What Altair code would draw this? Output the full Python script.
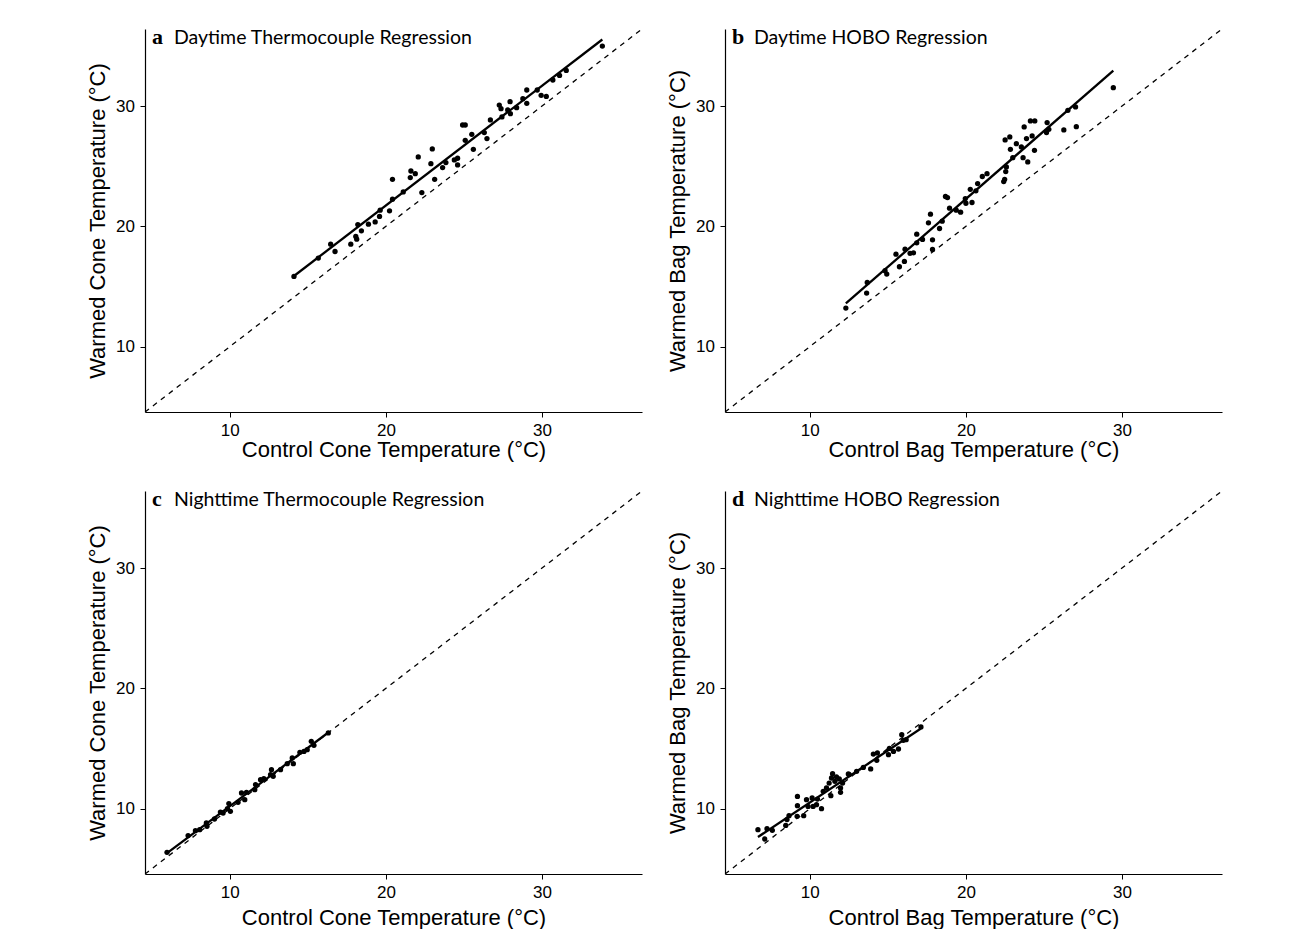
import altair as alt
import pandas as pd

AX_LO, AX_HI = 4.57, 36.4
TICKS = [10, 20, 30]

# Panel a: Daytime Thermocouple
a_x = [14.11, 15.67, 16.46, 16.74, 17.75, 18.13, 18.20, 18.43, 18.07, 18.88,
       19.31, 19.59, 19.63, 20.23, 20.42, 20.42, 21.11, 21.56, 21.60, 21.88,
       22.07, 22.30, 22.88, 22.97, 23.12, 23.63, 23.84, 24.38, 24.59, 24.59,
       24.91, 25.08, 25.08, 25.50, 25.60, 26.30, 26.47, 26.69, 27.26, 27.37,
       27.43, 27.80, 27.95, 27.97, 28.37, 28.77, 29.02, 29.02, 29.69, 29.94,
       30.27, 30.69, 31.12, 31.55, 33.86]
a_y = [15.84, 17.36, 18.52, 17.91, 18.52, 18.93, 20.15, 19.63, 19.16, 20.18,
       20.37, 20.82, 21.34, 21.29, 22.25, 23.91, 22.86, 24.05, 24.60, 24.38,
       25.77, 22.81, 25.21, 26.43, 23.91, 24.88, 25.30, 25.52, 25.66, 25.10,
       28.42, 28.42, 27.15, 27.65, 26.40, 27.79, 27.29, 28.84, 30.08, 29.78,
       29.09, 29.67, 30.36, 29.36, 29.86, 30.61, 30.22, 31.33, 31.33, 30.89,
       30.80, 32.16, 32.54, 32.96, 34.98]

# Panel b: Daytime HOBO
b_x = [12.31, 13.64, 13.68, 14.93, 14.82, 15.52, 15.74, 16.10, 16.06, 16.42,
       16.64, 16.85, 16.85, 17.22, 17.60, 17.73, 17.86, 17.86, 18.31, 18.48,
       18.69, 18.82, 18.95, 19.38, 19.66, 19.96, 20.00, 20.39, 20.28, 20.64,
       20.75, 21.05, 21.35, 22.42, 22.48, 22.55, 22.59, 22.51, 22.81, 22.85,
       23.00, 23.23, 23.55, 23.66, 23.73, 23.88, 23.96, 24.24, 24.13, 24.41,
       24.39, 25.16, 25.20, 25.31, 26.27, 26.53, 27.02, 27.07, 29.44]
b_y = [13.21, 14.45, 15.34, 16.03, 16.31, 17.69, 16.64, 18.10, 17.08, 17.75,
       17.80, 19.35, 18.63, 18.91, 20.29, 21.01, 18.88, 18.08, 19.82, 20.43,
       22.48, 22.39, 21.51, 21.34, 21.18, 22.31, 21.92, 21.98, 23.08, 22.95,
       23.55, 24.14, 24.38, 23.72, 23.91, 24.55, 24.94, 27.18, 27.43, 26.40,
       25.71, 26.87, 26.60, 25.71, 28.26, 27.29, 25.35, 27.51, 28.76, 28.76,
       26.32, 27.79, 28.62, 28.06, 28.01, 29.64, 29.92, 28.28, 31.52]

# Panel c: Nighttime Thermocouple
c_x = [5.98, 7.33, 7.80, 8.07, 8.50, 8.54, 9.02, 9.40, 9.57, 9.94,
       10.04, 9.85, 10.53, 10.75, 10.96, 11.07, 11.60, 11.65, 11.97, 12.18,
       12.61, 12.67, 12.78, 13.25, 13.68, 14.00, 14.07, 14.49, 14.75, 14.96,
       15.22, 15.39, 16.31]
c_y = [6.37, 7.76, 8.17, 8.25, 8.81, 8.53, 9.14, 9.72, 9.64, 10.42,
       9.78, 10.00, 10.53, 11.30, 10.75, 11.36, 11.58, 12.00, 12.41, 12.49,
       12.83, 13.24, 12.69, 13.24, 13.74, 14.21, 13.74, 14.68, 14.76, 14.90,
       15.60, 15.26, 16.29]

# Panel d: Nighttime HOBO
d_x = [6.68, 7.11, 7.26, 7.60, 8.46, 8.54, 8.67, 9.19, 9.21, 9.21,
       9.61, 9.79, 9.89, 10.15, 10.21, 10.43, 10.49, 10.75, 10.86, 11.07,
       11.24, 11.35, 11.46, 11.39, 11.61, 11.71, 11.89, 11.97, 12.10, 11.97,
       12.47, 12.53, 13.00, 13.43, 13.90, 14.07, 14.33, 14.29, 15.04, 15.10,
       15.36, 15.68, 15.89, 15.99, 16.17, 17.12]
d_y = [8.25, 7.48, 8.34, 8.20, 8.61, 9.09, 9.42, 9.36, 11.02, 10.25,
       9.42, 10.75, 10.19, 10.89, 10.19, 10.33, 10.80, 10.00, 11.44, 11.72,
       12.13, 11.08, 12.91, 12.55, 12.27, 12.63, 12.47, 11.36, 12.13, 11.72,
       12.88, 12.83, 13.10, 13.43, 13.30, 14.54, 14.63, 14.02, 14.49, 15.01,
       14.76, 14.96, 16.15, 15.68, 15.73, 16.79]

letters = ["a", "b", "c", "d"]
titles = ["Daytime Thermocouple Regression", "Daytime HOBO Regression",
          "Nighttime Thermocouple Regression", "Nighttime HOBO Regression"]
x_titles = ["Control Cone Temperature (°C)", "Control Bag Temperature (°C)",
            "Control Cone Temperature (°C)", "Control Bag Temperature (°C)"]
y_titles = ["Warmed Cone Temperature (°C)", "Warmed Bag Temperature (°C)",
            "Warmed Cone Temperature (°C)", "Warmed Bag Temperature (°C)"]
x_title_pad = [1.5, 1.5, 7, 7]

W, H = 497, 383


def panel(xs, ys, letter, title, xtitle, ytitle, xpad):
    df = pd.DataFrame({"x": xs, "y": ys})
    sc = alt.Scale(domain=[AX_LO, AX_HI], nice=False, zero=False)
    X = alt.X("x:Q", scale=sc,
              axis=alt.Axis(values=TICKS, title=xtitle, tickSize=5, labelPadding=5,
                            titlePadding=xpad))
    Y = alt.Y("y:Q", scale=sc,
              axis=alt.Axis(values=TICKS, title=ytitle, tickSize=5, labelPadding=5.5,
                            titlePadding=6))
    ident_df = pd.DataFrame({"x": [AX_LO, AX_HI], "y": [AX_LO, AX_HI]})
    ident = alt.Chart(ident_df).mark_line(
        color="black", strokeWidth=1.3, strokeDash=[5, 5], clip=True
    ).encode(x=X, y=Y)
    reg = alt.Chart(df).transform_regression("x", "y").mark_line(
        color="black", strokeWidth=2.3, clip=True
    ).encode(x=X, y=Y)
    pts = alt.Chart(df).mark_circle(size=28, color="black", opacity=1).encode(x=X, y=Y)
    lab = alt.Chart(pd.DataFrame({"t": [letter]})).mark_text(
        font="Liberation Serif", fontWeight="bold", fontSize=22,
        align="left", baseline="alphabetic", color="black"
    ).encode(x=alt.value(7), y=alt.value(15), text="t:N")
    ttl = alt.Chart(pd.DataFrame({"t": [title]})).mark_text(
        font="Lato", fontSize=19.5, align="left", baseline="alphabetic", color="black"
    ).encode(x=alt.value(29), y=alt.value(15), text="t:N")
    return alt.layer(ident, reg, pts, lab, ttl).properties(width=W, height=H)


series = [(a_x, a_y), (b_x, b_y), (c_x, c_y), (d_x, d_y)]
panels = [panel(s[0], s[1], letters[i], titles[i], x_titles[i], y_titles[i], x_title_pad[i])
          for i, s in enumerate(series)]

row1 = alt.hconcat(panels[0], panels[1], spacing=24)
row2 = alt.hconcat(panels[2], panels[3], spacing=24)
chart = alt.vconcat(row1, row2, spacing=27).properties(
    padding={"left": 78, "top": 18, "right": 5, "bottom": 5}
).configure(background="white").configure_view(stroke=None).configure_axis(
    grid=False,
    domainColor="black", domainWidth=1.2,
    tickColor="black", tickWidth=1,
    labelColor="black", titleColor="black",
    labelFont="Liberation Sans", titleFont="Liberation Sans",
    labelFontSize=17, titleFontSize=22, titleFontWeight="normal",
)

chart.save("out.html", embed_options={"renderer": "svg", "actions": False})
